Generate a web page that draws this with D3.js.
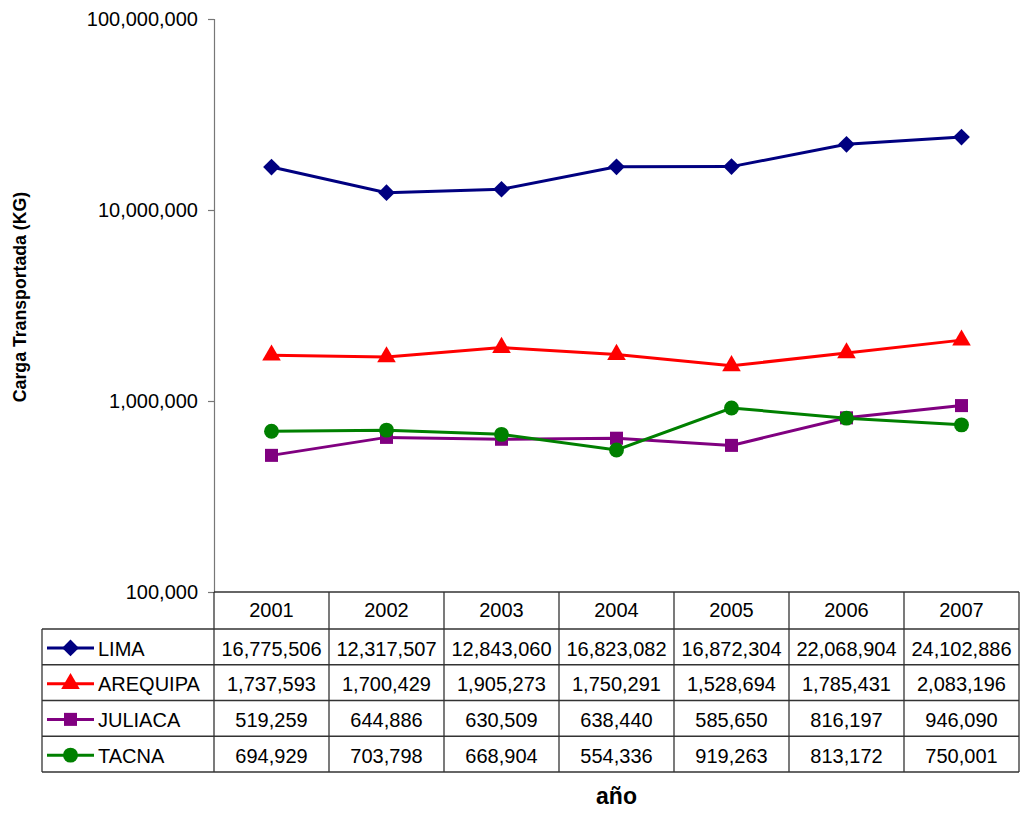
<!DOCTYPE html>
<html>
<head>
<meta charset="utf-8">
<script src="https://cdn.jsdelivr.net/npm/d3@7"></script>
<style>
  body { margin: 0; background: #fff; }
  text { font-family: "Liberation Sans", Arial, sans-serif; fill: #000; }
</style>
</head>
<body>
<svg id="svg" width="1020" height="813"></svg>
<script>

// years (table header / x categories)
var years = ["2001", "2002", "2003", "2004", "2005", "2006", "2007"];

// series
var seriesNames = ["LIMA", "AREQUIPA", "JULIACA", "TACNA"];
var lima     = [16775506, 12317507, 12843060, 16823082, 16872304, 22068904, 24102886];
var arequipa = [1737593, 1700429, 1905273, 1750291, 1528694, 1785431, 2083196];
var juliaca  = [519259, 644886, 630509, 638440, 585650, 816197, 946090];
var tacna    = [694929, 703798, 668904, 554336, 919263, 813172, 750001];

// y axis ticks
var yTicks = [100000, 1000000, 10000000, 100000000];

var colors  = ["#000080", "#ff0000", "#800080", "#008000"];
// diamond = square rotated 45deg
var symbols = [d3.symbolSquare, d3.symbolTriangle, d3.symbolSquare, d3.symbolCircle];
var symSize = [140, 150, 170, 175];
var symRot  = [45, 0, 0, 0];

var allValues = [lima, arequipa, juliaca, tacna];

var svg = d3.select("#svg");

// plot area
var plotLeft = 214, plotRight = 1019, plotTop = 19, plotBottom = 592;
var tableBottom = 772, tableLeft = 42, headerBottom = 629;

var x = d3.scaleBand().domain(years).range([plotLeft, plotRight]).padding(0);
var y = d3.scaleLog().domain([1e5, 1e8]).range([plotBottom, plotTop]);
var rowScale = d3.scaleBand().domain(seriesNames).range([headerBottom, tableBottom]);

var fmt = d3.format(",");

////////////////////////////
// y axis
var yAxis = d3.axisLeft(y).tickValues(yTicks).tickFormat(fmt).tickSize(6).tickPadding(10);
var gy = svg.append("g").attr("transform", "translate(" + plotLeft + ",0)").call(yAxis);
gy.select(".domain").attr("stroke", "#777").attr("stroke-width", 1.2);
gy.selectAll(".tick line").attr("stroke", "#777").attr("stroke-width", 1.2);
gy.selectAll(".tick text").attr("font-size", 20).attr("font-family", "Liberation Sans, Arial, sans-serif").attr("fill", "#000");

// axis title
svg.append("text")
  .attr("transform", "translate(26,297) rotate(-90)")
  .attr("text-anchor", "middle")
  .attr("font-size", 17.7)
  .attr("font-weight", "bold")
  .text("Carga Transportada (KG)");

svg.append("text")
  .attr("x", (plotLeft + plotRight) / 2)
  .attr("y", 804)
  .attr("text-anchor", "middle")
  .attr("font-size", 23)
  .attr("font-weight", "bold")
  .text("año");

////////////////////////////
// lines and markers
var cx = function(i) { return x(years[i]) + x.bandwidth() / 2; };

var line = d3.line()
  .x(function(d, i) { return cx(i); })
  .y(function(d) { return y(d); });

allValues.forEach(function(vals, s) {
  svg.append("path")
    .datum(vals)
    .attr("d", line)
    .attr("fill", "none")
    .attr("stroke", colors[s])
    .attr("stroke-width", 3);

  svg.selectAll(null)
    .data(vals)
    .enter().append("path")
    .attr("d", d3.symbol().type(symbols[s]).size(symSize[s]))
    .attr("transform", function(d, i) { return "translate(" + cx(i) + "," + y(d) + ") rotate(" + symRot[s] + ")"; })
    .attr("fill", colors[s]);
});

////////////////////////////
// data table
var gt = svg.append("g").attr("stroke", "#333").attr("stroke-width", 1.3);

// x axis / header top
gt.append("line").attr("x1", plotLeft).attr("x2", plotRight).attr("y1", plotBottom).attr("y2", plotBottom);
// header bottom / table top
gt.append("line").attr("x1", tableLeft).attr("x2", plotRight).attr("y1", headerBottom).attr("y2", headerBottom);
// row separators
seriesNames.forEach(function(n) {
  var yy = rowScale(n) + rowScale.bandwidth();
  gt.append("line").attr("x1", tableLeft).attr("x2", plotRight).attr("y1", yy).attr("y2", yy);
});
// verticals
gt.append("line").attr("x1", tableLeft).attr("x2", tableLeft).attr("y1", headerBottom).attr("y2", tableBottom);
years.forEach(function(yr) {
  gt.append("line").attr("x1", x(yr)).attr("x2", x(yr)).attr("y1", plotBottom).attr("y2", tableBottom);
});
gt.append("line").attr("x1", plotRight).attr("x2", plotRight).attr("y1", plotBottom).attr("y2", tableBottom);

// header text
svg.selectAll(".hdr")
  .data(years)
  .enter().append("text")
  .attr("x", function(d) { return x(d) + x.bandwidth() / 2; })
  .attr("y", (plotBottom + headerBottom) / 2)
  .attr("dy", "0.33em")
  .attr("text-anchor", "middle")
  .attr("font-size", 20)
  .text(function(d) { return d; });

// rows
seriesNames.forEach(function(n, s) {
  var cy = rowScale(n) + rowScale.bandwidth() / 2;
  svg.append("line")
    .attr("x1", 47).attr("x2", 94).attr("y1", cy + 1).attr("y2", cy + 1)
    .attr("stroke", colors[s]).attr("stroke-width", 3);
  svg.append("path")
    .attr("d", d3.symbol().type(symbols[s]).size(symSize[s]))
    .attr("transform", "translate(70.5," + (cy + 1) + ") rotate(" + symRot[s] + ")")
    .attr("fill", colors[s]);
  svg.append("text")
    .attr("x", 98).attr("y", cy).attr("dy", "0.44em")
    .attr("font-size", 20)
    .text(n);

  svg.selectAll(null)
    .data(allValues[s])
    .enter().append("text")
    .attr("x", function(d, i) { return cx(i); })
    .attr("y", cy)
    .attr("dy", "0.44em")
    .attr("text-anchor", "middle")
    .attr("font-size", 20)
    .text(function(d) { return fmt(d); });
});

</script>
</body>
</html>
